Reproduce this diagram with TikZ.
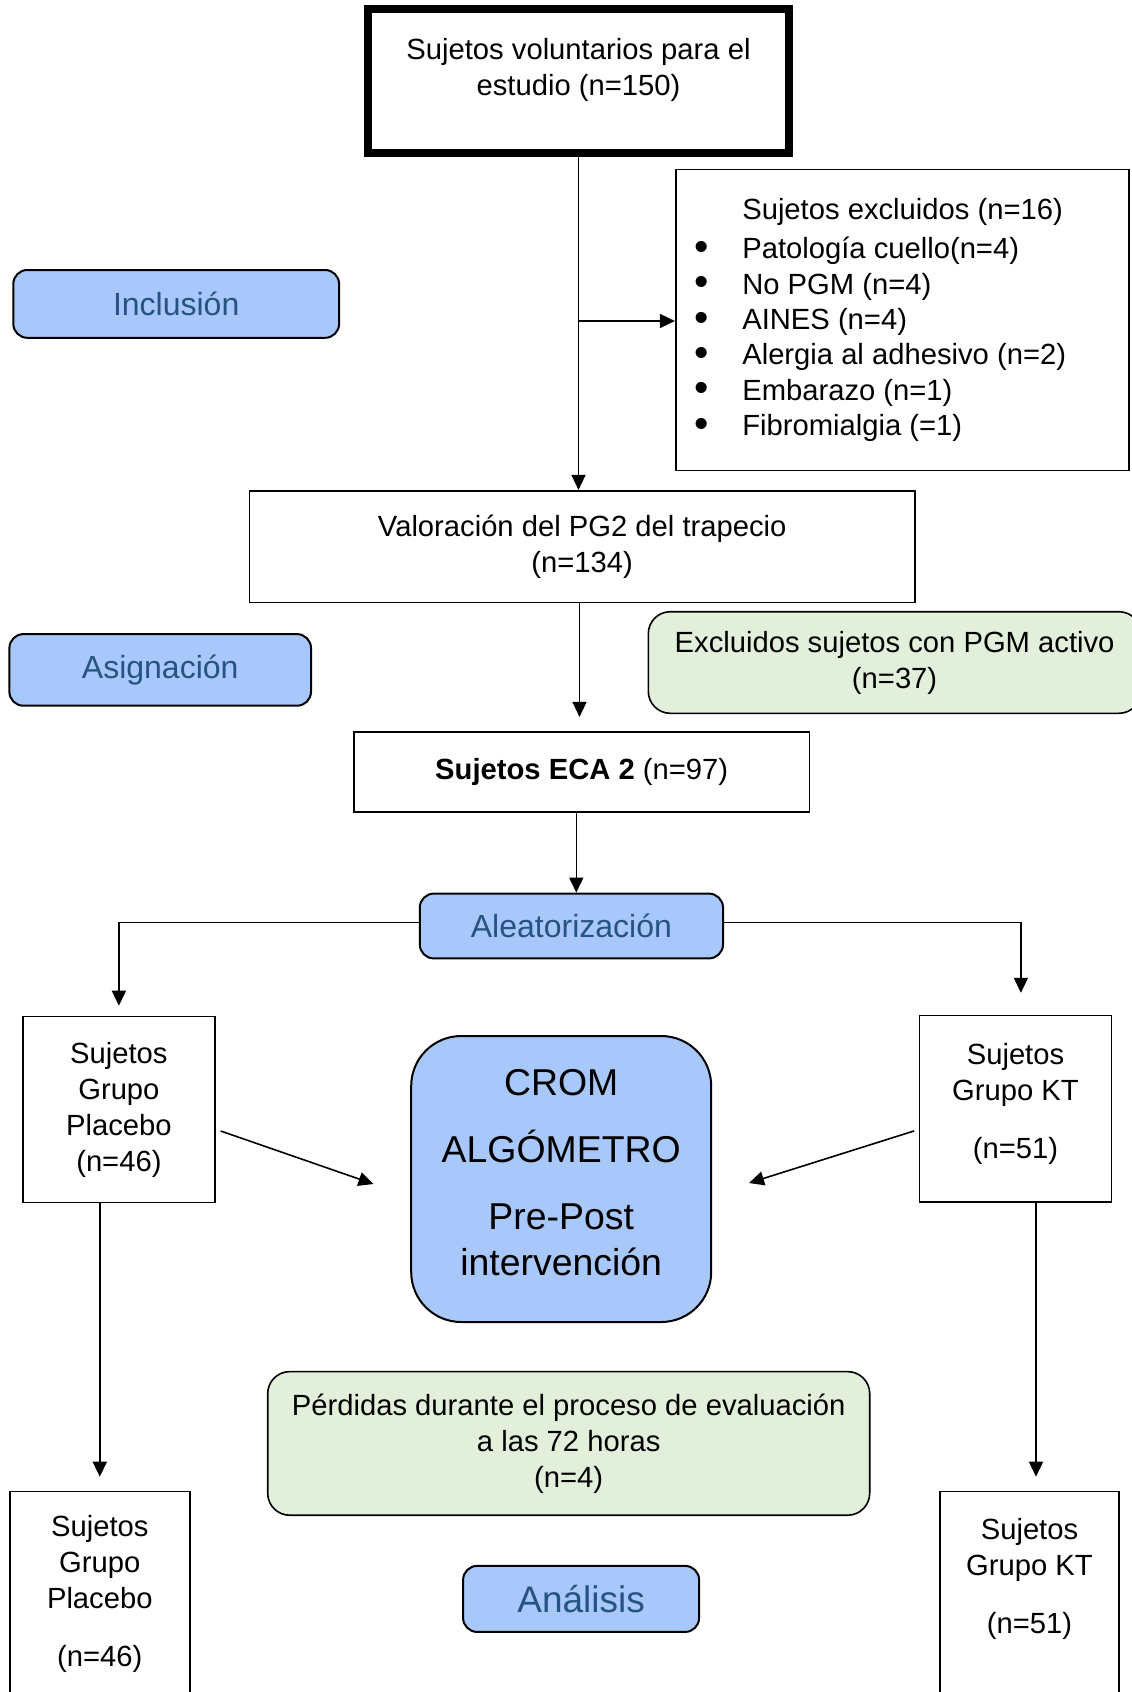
\documentclass[tikz,border=0pt]{standalone}
\usepackage{fontspec}
\setmainfont{Liberation Sans}
\usetikzlibrary{arrows.meta}
\definecolor{azul}{RGB}{168,199,250}
\definecolor{azultxt}{RGB}{38,84,130}
\definecolor{verde}{RGB}{226,239,218}
\newcommand{\vineta}{\llap{\smash{\raisebox{-0.8pt}{\scalebox{1.4}{\textbullet}}}\hspace{14.6pt}}}

\begin{document}
\begin{tikzpicture}[x=0.5pt,y=-0.5pt,>={Triangle[length=7.5pt,width=7pt]}]
\tikzstyle{caja}=[draw,line width=0.8pt,align=center,inner sep=2pt,font=\fontsize{14.6}{18}\selectfont];
\tikzstyle{etapa}=[draw,line width=1pt,rounded corners=7pt,fill=azul,text=azultxt,font=\fontsize{16}{19}\selectfont];
\tikzstyle{nota}=[caja,rounded corners=11pt,fill=verde];
\tikzstyle{dir}=[->,line width=0.8pt];
\useasboundingbox (0,0) rectangle (1131,1692);
\node [caja,line width=4.25pt,minimum width=210.5pt,minimum height=72pt] (vol) at (578.5,81) {Sujetos voluntarios para el\\estudio (n=150)\\[-4.3pt]\mbox{}};
\node [caja,align=left,font=\fontsize{14.6}{17.7}\selectfont,minimum width=226.5pt,minimum height=150.5pt] (excl) at (902.2,320) {\hspace{2pt}Sujetos excluidos (n=16)\\[2pt]
\vineta\hspace{2pt}Patología cuello(n=4)\\
\vineta\hspace{2pt}No PGM (n=4)\\
\vineta\hspace{2pt}AINES (n=4)\\
\vineta\hspace{2pt}Alergia al adhesivo (n=2)\\
\vineta\hspace{2pt}Embarazo (n=1)\\
\vineta\hspace{2pt}Fibromialgia (=1)};
\node [etapa,minimum width=162.9pt,minimum height=33.9pt] (inc) at (176.2,303.9) {Inclusión};
\node [caja,minimum width=332.8pt,minimum height=55.8pt] (val) at (582.2,546.5) {Valoración del PG2 del trapecio\\(n=134)};
\node [etapa,minimum width=150.8pt,minimum height=35.8pt] (asig) at (160.2,669.9) {Asignación};
\node [nota,minimum width=246.3pt,minimum height=50.8pt] (pgm) at (894.6,662.5) {Excluidos sujetos con PGM activo\\(n=37)\\[-15pt]\mbox{}};
\node [caja,minimum width=227.7pt,minimum height=40pt] (eca) at (581.7,771.7) {\textbf{Sujetos ECA 2} (n=97)};
\node [etapa,minimum width=151.6pt,minimum height=32.4pt] (alea) at (571.4,926) {Aleatorización};
\node [caja,minimum width=96pt,minimum height=93pt] (pl1) at (118.9,1109.5) {Sujetos\\Grupo\\Placebo\\(n=46)};
\node [caja,minimum width=96pt,minimum height=93.3pt] (kt1) at (1015.5,1108.9) {Sujetos\\Grupo KT\\[11pt](n=51)\\[-9.6pt]\mbox{}};
\node [etapa,text=black,rounded corners=25pt,minimum width=150pt,minimum height=143pt,align=center,font=\fontsize{18.7}{23}\selectfont] (crom) at (561.2,1179) {CROM\\[10.5pt]ALGÓMETRO\\[10.5pt]Pre-Post\\intervención\\[-16.5pt]\mbox{}};
\node [nota,minimum width=301pt,minimum height=71.8pt] (perd) at (568.7,1443.4) {Pérdidas durante el proceso de evaluación\\a las 72 horas\\(n=4)};
\node [etapa,font=\fontsize{18.5}{22}\selectfont,minimum width=118pt,minimum height=33pt] (anal) at (581.1,1598.9) {Análisis};
\node [caja,minimum width=90pt,minimum height=102pt] (pl2) at (99.8,1593.5) {Sujetos\\Grupo\\Placebo\\[11pt](n=46)};
\node [caja,minimum width=89.5pt,minimum height=102.5pt] (kt2) at (1029.5,1594) {Sujetos\\Grupo KT\\[11pt](n=51)\\\mbox{}};
\draw [dir] (vol) -- (vol |- val.north);
\draw [dir] ([yshift=-0.5pt]vol |- excl.west) -- ([yshift=-0.5pt]excl.west);
\draw [dir,shorten >=7pt] ([xshift=-1.35pt]val.south) -- ([xshift=-1.35pt]val.south |- eca.north);
\draw [dir] ([xshift=-2.7pt]eca.south) -- ([xshift=-2.7pt]eca.south |- alea.north);
\draw [dir,shorten >=5pt] ([yshift=1.7pt]alea.west) -| (pl1.north);
\draw [dir,shorten >=11pt] ([yshift=1.7pt]alea.east) -| ([xshift=2.7pt]kt1.north);
\draw [dir] ([xshift=2.5pt,yshift=-10.75pt]pl1.east) -- ([xshift=-18.35pt,yshift=-2.5pt]crom.west);
\draw [dir] ([xshift=-2.25pt,yshift=-11pt]kt1.west) -- ([xshift=18.4pt,yshift=-2pt]crom.east);
\draw [dir,shorten >=7pt] (pl1.south -| pl2) -- (pl2.north);
\draw [dir,shorten >=7pt] ([xshift=3.25pt]kt1.south -| kt2) -- ([xshift=3.25pt]kt2.north);
\end{tikzpicture}
\end{document}
